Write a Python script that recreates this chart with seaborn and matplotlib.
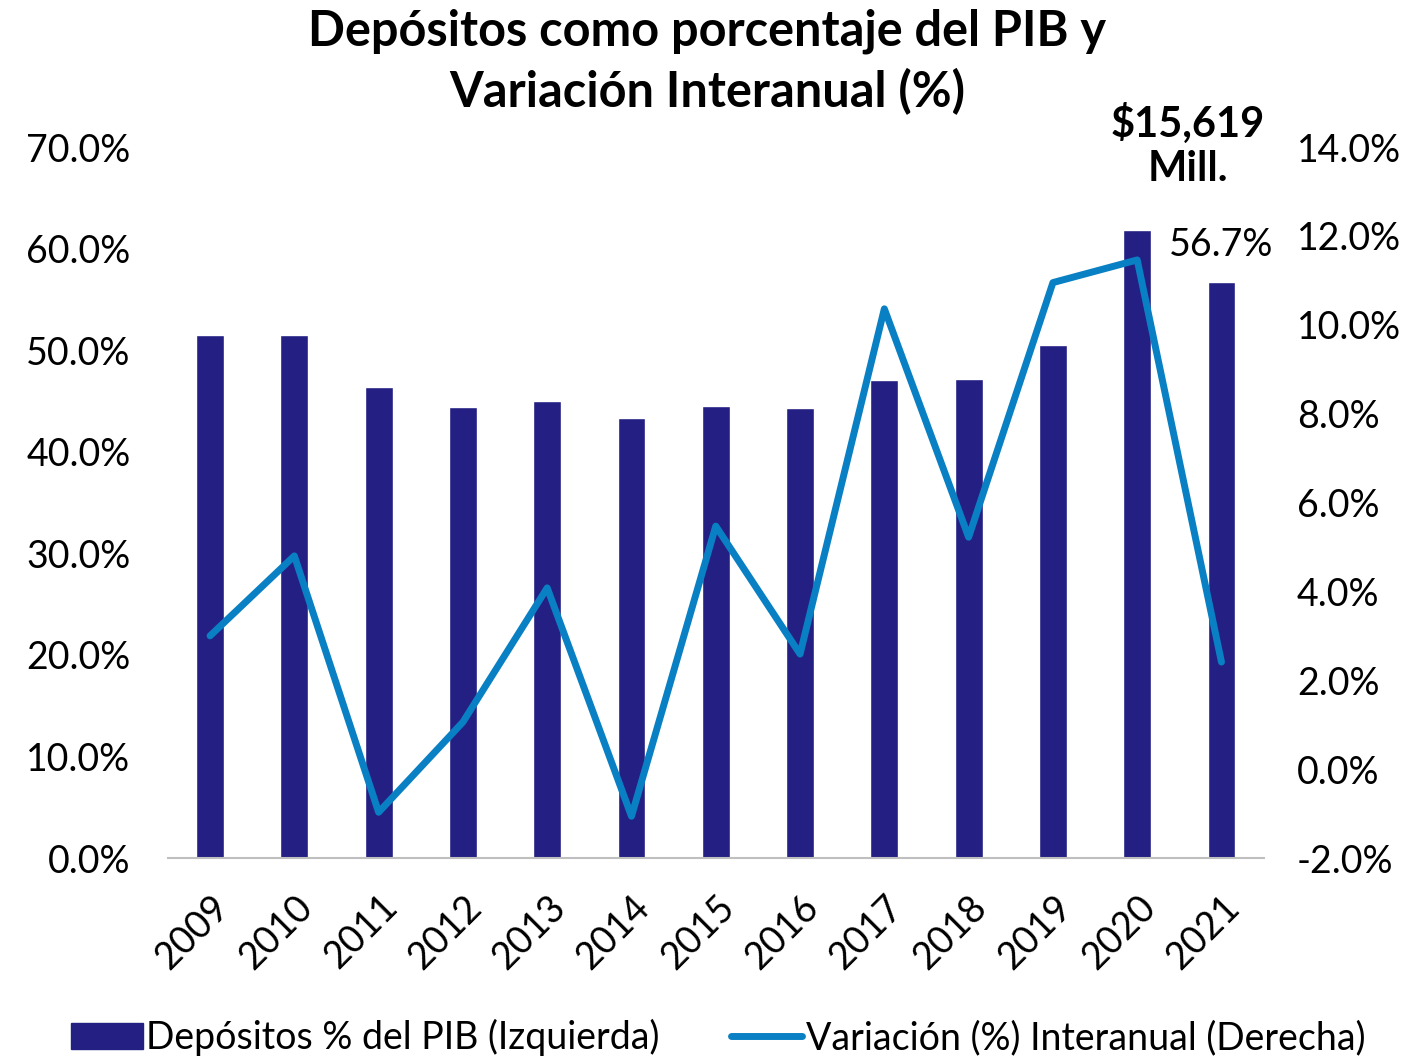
import numpy as np
import pandas as pd
import seaborn as sns
import matplotlib.pyplot as plt
from matplotlib.lines import Line2D
from matplotlib.patches import Patch
from matplotlib.ticker import PercentFormatter

sns.set_theme(style="white")
plt.rcParams["font.family"] = ["Lato", "DejaVu Sans"]
plt.rcParams["axes.unicode_minus"] = False
plt.rcParams["text.color"] = "black"

# data
years = ["2009", "2010", "2011", "2012", "2013", "2014", "2015",
         "2016", "2017", "2018", "2019", "2020", "2021"]
depositos_pib = [51.5, 51.5, 46.4, 44.4, 45.0, 43.3, 44.5,
                 44.3, 47.1, 47.2, 50.5, 61.8, 56.7]
variacion = [3.0, 4.8, -0.97, 1.06, 4.08, -1.06, 5.47,
             2.59, 10.36, 5.22, 10.95, 11.46, 2.41]

bar_color = "#231f83"
line_color = "#0a80c4"

df = pd.DataFrame({"year": years, "dep": depositos_pib, "var": variacion})

fig = plt.figure(figsize=(14.23, 10.58), dpi=100)
ax = fig.add_axes([0.118, 0.189, 0.77, 0.672])

sns.barplot(data=df, x="year", y="dep", color=bar_color, width=0.33,
            saturation=1, ax=ax)
ax.set_ylim(0, 70)
ax.set_yticks(np.arange(0, 71, 10))
ax.yaxis.set_major_formatter(PercentFormatter(decimals=1))
ax.set_xlim(-0.5, len(years) - 0.5)
ax.set_xlabel("")
ax.set_ylabel("")
ax.tick_params(axis="y", labelsize=27, length=0, pad=27, colors="black")
ax.tick_params(axis="x", labelsize=27, length=0, pad=22, colors="black")
for lbl in ax.get_xticklabels():
    lbl.set_rotation(45)
    lbl.set_ha("right")
    lbl.set_rotation_mode("anchor")
for s in ["top", "left", "right"]:
    ax.spines[s].set_visible(False)
ax.spines["bottom"].set_color("#bfbfbf")
ax.spines["bottom"].set_linewidth(1.5)

ax2 = ax.twinx()
sns.lineplot(x=np.arange(len(years)), y=variacion, color=line_color,
             linewidth=5, ax=ax2)
ax2.set_ylim(-2, 14)
ax2.set_yticks(np.arange(-2, 14.1, 2))
ax2.yaxis.set_major_formatter(PercentFormatter(decimals=1))
ax2.tick_params(axis="y", labelsize=27, length=0, pad=24, colors="black")
for s in ["top", "left", "right", "bottom"]:
    ax2.spines[s].set_visible(False)
ax2.grid(False)

# annotations
ax.text(len(years) - 1, 58.6, "56.7%", ha="center", va="bottom", fontsize=27)
ax.text(len(years) - 1.4, 66.0, "$15,619\nMill.", ha="center",
        va="bottom", fontsize=30, fontweight="bold", linespacing=1.2)

fig.suptitle("Depósitos como porcentaje del PIB y\nVariación Interanual (%)",
             x=0.497, y=0.992, fontsize=35, fontweight="bold", linespacing=1.35)

handles = [Patch(color=bar_color, label="Depósitos % del PIB (Izquierda)"),
           Line2D([0], [0], color=line_color, linewidth=5,
                  label="Variación (%) Interanual (Derecha)")]
fig.legend(handles=handles, loc="lower center", bbox_to_anchor=(0.505, -0.03),
           ncol=2, frameon=False, fontsize=27, handlelength=1.9,
           handletextpad=0.1, columnspacing=1.9)

fig.savefig("out.png", dpi=100)
